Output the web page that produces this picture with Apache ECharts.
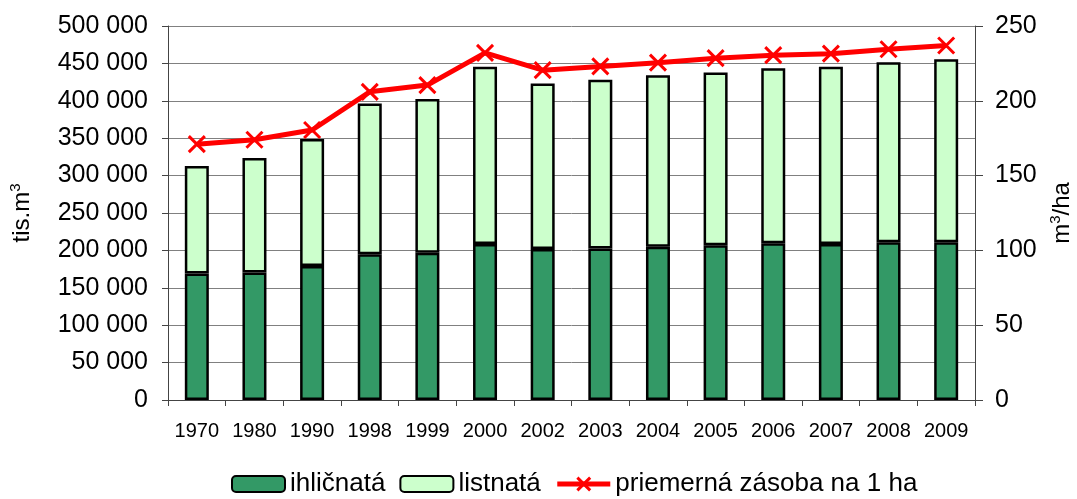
<!DOCTYPE html>
<html>
<head>
<meta charset="utf-8">
<script src="https://cdn.jsdelivr.net/npm/echarts@6/dist/echarts.min.js"></script>
<style>
  html, body { margin: 0; padding: 0; background: #fff; }
  #box { width: 1077px; height: 499px; }
</style>
</head>
<body>
<div id="box"></div>
<script>
const years = ['1970','1980','1990','1998','1999','2000','2002','2003','2004','2005','2006','2007','2008','2009']
// ihličnatá (spodná časť stĺpca)
const ihlicnata = [169000, 170500, 179000, 195000, 197000, 208500, 202000, 202500, 205000, 207000, 209500, 208500, 211000, 211000]
// celkové zásoby (vrch stĺpca)
const spolu = [313000, 323500, 349000, 396500, 402500, 445500, 423000, 428000, 434000, 438000, 443500, 445500, 451500, 455500]
const listnata = spolu.map((v, i) => v - ihlicnata[i])
// priemerná zásoba na 1 ha
const zasobaHa = [171, 174, 180.5, 206, 210.5, 232, 220.5, 223, 225.5, 228.5, 230.5, 231.5, 234.5, 237]

const font = 'Liberation Sans, Arial, sans-serif'
const fmt = v => String(v).replace(/\B(?=(\d{3})+(?!\d))/g, ' ')
const supRich = {
  a: { fontSize: 24, fontFamily: font, color: '#000' },
  b: { fontSize: 15, fontFamily: font, color: '#000', padding: [0, 0, 14, 0] }
}

const chart = echarts.init(document.getElementById('box'))
const option = {
  animation: false,
  textStyle: { fontFamily: font, color: '#000' },
  grid: { left: 168, right: 102, top: 26, bottom: 99, outerBoundsMode: 'none', containLabel: false },
  legend: {
    top: 466,
    left: 226,
    itemWidth: 53,
    itemHeight: 16,
    itemGap: 14,
    textStyle: { fontSize: 26, fontFamily: font, color: '#000' },
    data: [
      'ihličnatá',
      'listnatá',
      { name: 'priemerná zásoba na 1 ha', lineStyle: { width: 5, color: '#FF0000' }, itemStyle: { borderWidth: 3 } }
    ]
  },
  xAxis: {
    type: 'category',
    data: years,
    axisLine: { lineStyle: { color: '#444', width: 1 } },
    axisTick: { show: true, alignWithLabel: false, length: 6, lineStyle: { color: '#444' } },
    axisLabel: { interval: 0, fontSize: 20, margin: 21, color: '#000', fontFamily: font }
  },
  yAxis: [
    {
      type: 'value',
      min: 0, max: 500000, interval: 50000,
      name: '{a|tis.m}{b|3}',
      nameLocation: 'middle',
      nameRotate: 90,
      nameGap: 131,
      nameTextStyle: { rich: supRich },
      axisLine: { show: true, lineStyle: { color: '#444' } },
      axisTick: { show: true, length: 6, lineStyle: { color: '#444' } },
      axisLabel: { fontSize: 25, margin: 20, color: '#000', fontFamily: font, formatter: fmt },
      splitLine: { lineStyle: { color: '#808080', width: 1 } }
    },
    {
      type: 'value',
      min: 0, max: 250, interval: 50,
      position: 'right',
      name: '{a|m}{b|3}{a|/ha}',
      nameLocation: 'middle',
      nameRotate: 90,
      nameGap: 73,
      nameTextStyle: { rich: supRich },
      axisLine: { show: true, lineStyle: { color: '#444' } },
      axisTick: { show: true, length: 8, lineStyle: { color: '#444' } },
      axisLabel: { fontSize: 25, margin: 20, color: '#000', fontFamily: font },
      splitLine: { show: false }
    }
  ],
  series: [
    {
      name: 'ihličnatá',
      type: 'bar',
      stack: 'zasoba',
      barWidth: 24,
      itemStyle: { color: '#339966', borderColor: '#000', borderWidth: 2.5 },
      data: ihlicnata
    },
    {
      name: 'listnatá',
      type: 'bar',
      stack: 'zasoba',
      barWidth: 24,
      itemStyle: { color: '#CCFFCC', borderColor: '#000', borderWidth: 2.5 },
      data: listnata
    },
    {
      name: 'priemerná zásoba na 1 ha',
      type: 'line',
      yAxisIndex: 1,
      symbol: 'path://M0,0L10,10M10,0L0,10',
      symbolSize: 16,
      lineStyle: { color: '#FF0000', width: 5 },
      itemStyle: { color: '#FF0000', borderColor: '#FF0000', borderWidth: 3 },
      data: zasobaHa
    }
  ]
}
chart.setOption(option)
</script>
</body>
</html>
